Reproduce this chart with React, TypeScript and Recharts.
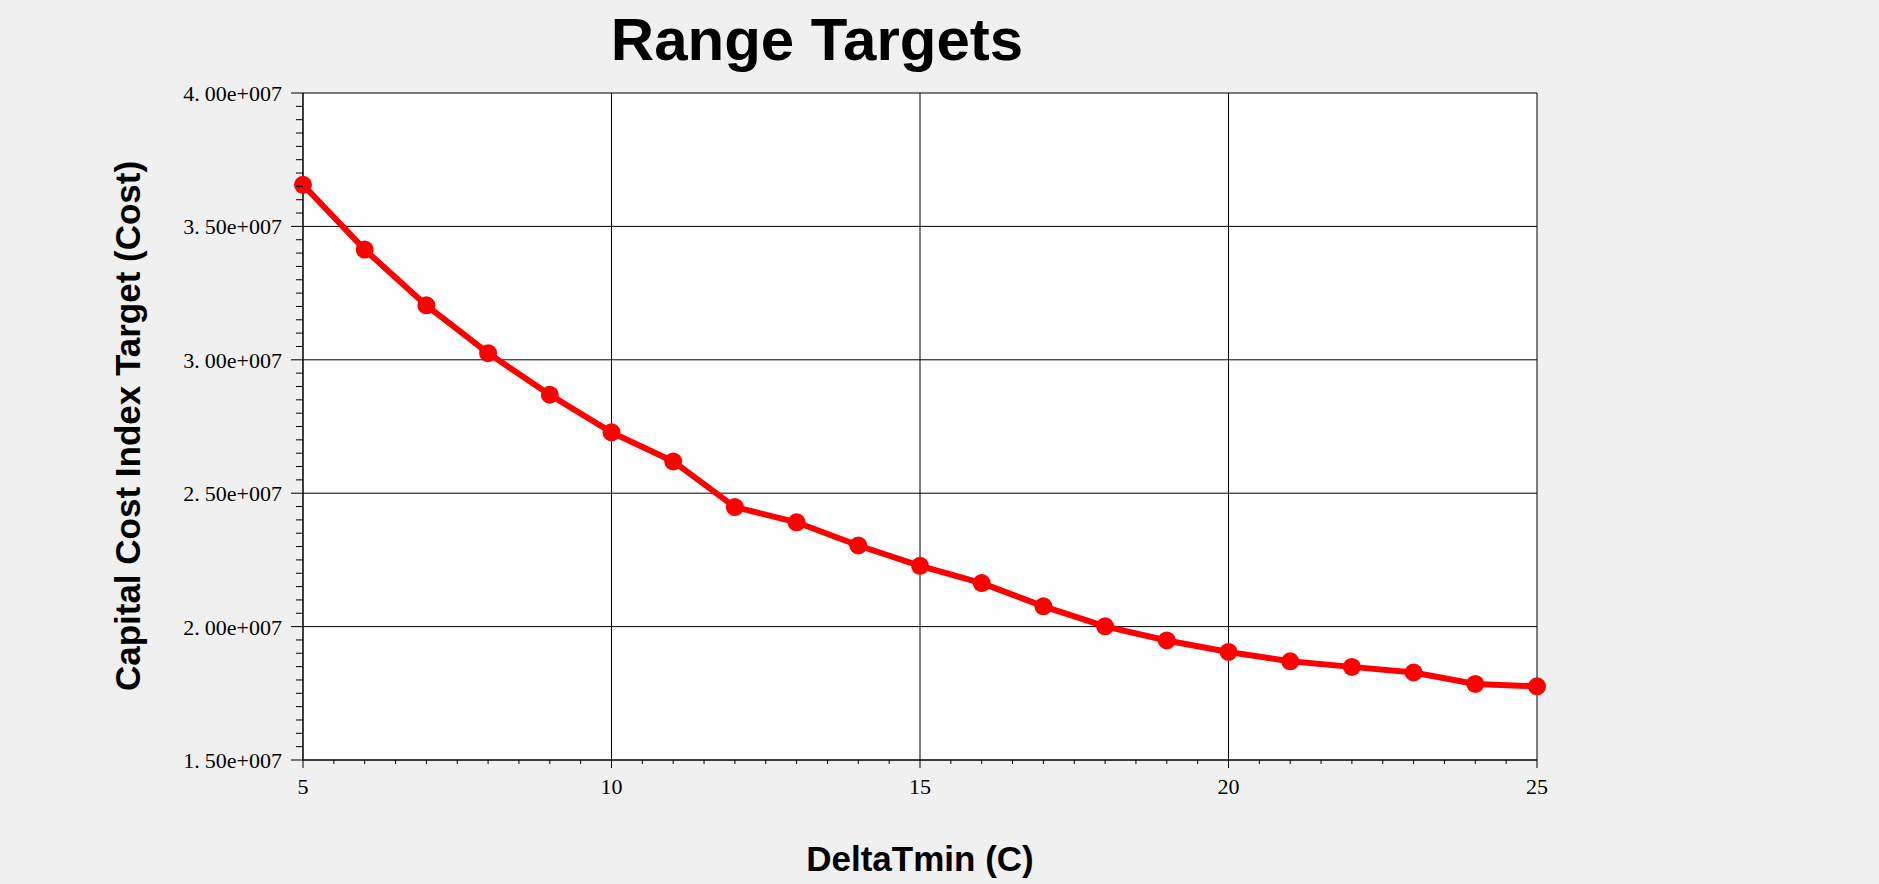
import React from 'react';
import { LineChart, Line, XAxis, YAxis, CartesianGrid } from 'recharts';

// DeltaTmin (C) and the capital cost index target
const deltaTmin = [5, 6, 7, 8, 9, 10, 11, 12, 13, 14, 15, 16, 17, 18, 19, 20, 21, 22, 23, 24, 25];
const capitalCost = [
  36.56e6, 34.13e6, 32.04e6, 30.25e6, 28.69e6, 27.28e6, 26.19e6, 24.48e6, 23.91e6, 23.04e6, 22.28e6,
  21.63e6, 20.76e6, 20.01e6, 19.48e6, 19.05e6, 18.7e6, 18.49e6, 18.28e6, 17.85e6, 17.76e6,
];

const yMajorTicks = [15e6, 20e6, 25e6, 30e6, 35e6, 40e6];
const yTickLabels = ['1.50e+007', '2.00e+007', '2.50e+007', '3.00e+007', '3.50e+007', '4.00e+007'];
const xMajorTicks = [5, 10, 15, 20, 25];
const xTickLabels = ['5', '10', '15', '20', '25'];

const yMinorStep = 0.5e6;
const xMinorStep = 0.5;

const yTicks: number[] = [];
for (let v = yMajorTicks[0]; v <= yMajorTicks[yMajorTicks.length - 1]; v += yMinorStep) yTicks.push(v);
const xTicks: number[] = [];
for (let v = xMajorTicks[0]; v <= xMajorTicks[xMajorTicks.length - 1]; v += xMinorStep) xTicks.push(v);

const rows = deltaTmin.map((x, i) => ({ x, cost: capitalCost[i] }));

const SERIF = '"Liberation Serif", "DejaVu Serif", serif';
const SANS = '"Liberation Sans", Arial, sans-serif';

function YTick(props: any) {
  const { x, y, payload } = props;
  const idx = yMajorTicks.indexOf(payload.value);
  const major = idx >= 0;
  let head = '';
  let tail = '';
  if (major) {
    const dot = yTickLabels[idx].indexOf('.') + 1;
    head = yTickLabels[idx].slice(0, dot);
    tail = yTickLabels[idx].slice(dot);
  }
  return (
    <g>
      <line x1={x - (major ? 12 : 7)} x2={x} y1={y} y2={y} stroke="#000" strokeWidth={1} />
      {major && (
        <text x={x - 21} y={y + 8} textAnchor="end" fontFamily={SERIF} fontSize={22} fill="#000">
          <tspan>{head}</tspan>
          <tspan dx={5}>{tail}</tspan>
        </text>
      )}
    </g>
  );
}

function XTick(props: any) {
  const { x, y, payload } = props;
  const idx = xMajorTicks.indexOf(payload.value);
  const major = idx >= 0;
  return (
    <g>
      <line x1={x} x2={x} y1={y} y2={y + (major ? 8 : 4)} stroke="#000" strokeWidth={1} />
      {major && (
        <text x={x} y={y + 34} textAnchor="middle" fontFamily={SERIF} fontSize={22} fill="#000">
          {xTickLabels[idx]}
        </text>
      )}
    </g>
  );
}

export default function App() {
  return (
    <div style={{ position: 'absolute', left: 0, top: 0, width: 1879, height: 884, background: '#f0f0f0' }}>
      <LineChart width={1879} height={884} data={rows} margin={{ top: 93, right: 342, bottom: 94, left: 223 }}>
        <CartesianGrid
          fill="#fff"
          fillOpacity={1}
          stroke="#000"
          strokeOpacity={1}
          horizontalValues={yMajorTicks}
          verticalValues={xMajorTicks}
        />
        <XAxis
          type="number"
          dataKey="x"
          domain={[5, 25]}
          ticks={xTicks}
          interval={0}
          height={30}
          tickSize={0}
          tickMargin={0}
          tickLine={false}
          axisLine={{ stroke: '#000' }}
          tick={<XTick />}
        />
        <YAxis
          type="number"
          domain={[15e6, 40e6]}
          ticks={yTicks}
          interval={0}
          width={80}
          tickSize={0}
          tickMargin={0}
          tickLine={false}
          axisLine={{ stroke: '#000' }}
          tick={<YTick />}
        />
        <Line
          type="linear"
          dataKey="cost"
          stroke="#ff0000"
          strokeWidth={6}
          dot={{ r: 9, fill: '#ff0000', stroke: 'none' }}
          isAnimationActive={false}
        />
      </LineChart>
      <svg width={1879} height={884} style={{ position: 'absolute', left: 0, top: 0, pointerEvents: 'none' }}>
        <text x={817} y={60} textAnchor="middle" fontFamily={SANS} fontWeight="bold" fontSize={60} fill="#000">
          Range Targets
        </text>
        <text
          transform="translate(140,426) rotate(-90)"
          textAnchor="middle"
          fontFamily={SANS}
          fontWeight="bold"
          fontSize={35}
          fill="#000"
        >
          Capital Cost Index Target (Cost)
        </text>
        <text x={920} y={871} textAnchor="middle" fontFamily={SANS} fontWeight="bold" fontSize={35} fill="#000">
          DeltaTmin (C)
        </text>
      </svg>
    </div>
  );
}
